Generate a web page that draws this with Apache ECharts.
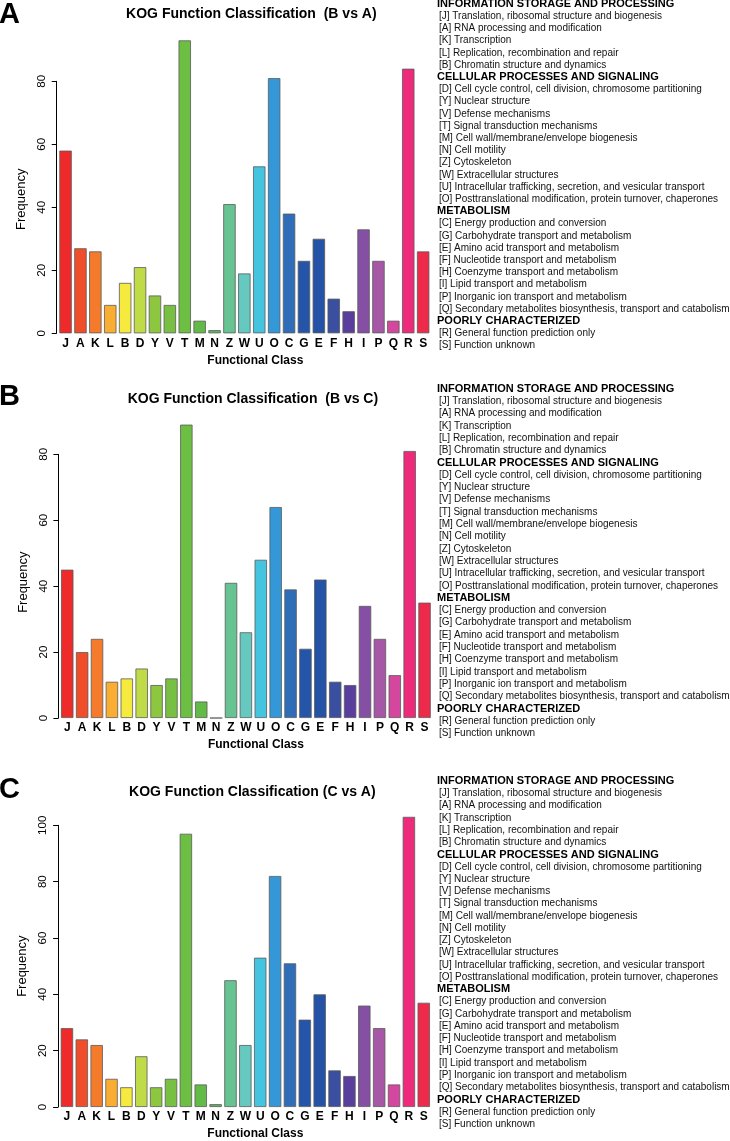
<!DOCTYPE html>
<html>
<head>
<meta charset="utf-8">
<script src="https://cdn.jsdelivr.net/npm/echarts@6/dist/echarts.min.js"></script>
<style>
html,body{margin:0;padding:0;background:#fff;}
#chart{width:730px;height:1141px;}
</style>
</head>
<body>
<div id="chart"></div>
<script>
// ---------- data ----------
const categories = ['J','A','K','L','B','D','Y','V','T','M','N','Z','W','U','O','C','G','E','F','H','I','P','Q','R','S'];
const valuesBvsA = [58,27,26,9,16,21,12,9,93,4,1,41,19,53,81,38,23,30,11,7,33,23,4,84,26];
const valuesBvsC = [45,20,24,11,12,15,10,12,89,5,0,41,26,48,64,39,21,42,11,10,34,24,13,81,35];
const valuesCvsA = [28,24,22,10,7,18,7,10,97,8,1,45,22,53,82,51,31,40,13,11,36,28,8,103,37];
const panelTitles = ['KOG Function Classification  (B vs A)','KOG Function Classification  (B vs C)','KOG Function Classification (C vs A)'];
const panelLetters = ['A','B','C'];
const yTickLabels = [[0,20,40,60,80],[0,20,40,60,80],[0,20,40,60,80,100]];
const groupHeaders = ['INFORMATION STORAGE AND PROCESSING','CELLULAR PROCESSES AND SIGNALING','METABOLISM','POORLY CHARACTERIZED'];
const infoItems = ['[J] Translation, ribosomal structure and biogenesis','[A] RNA processing and modification','[K] Transcription','[L] Replication, recombination and repair','[B] Chromatin structure and dynamics'];
const cellItems = ['[D] Cell cycle control, cell division, chromosome partitioning','[Y] Nuclear structure','[V] Defense mechanisms','[T] Signal transduction mechanisms','[M] Cell wall/membrane/envelope biogenesis','[N] Cell motility','[Z] Cytoskeleton','[W] Extracellular structures','[U] Intracellular trafficking, secretion, and vesicular transport','[O] Posttranslational modification, protein turnover, chaperones'];
const metabItems = ['[C] Energy production and conversion','[G] Carbohydrate transport and metabolism','[E] Amino acid transport and metabolism','[F] Nucleotide transport and metabolism','[H] Coenzyme transport and metabolism','[I] Lipid transport and metabolism','[P] Inorganic ion transport and metabolism','[Q] Secondary metabolites biosynthesis, transport and catabolism'];
const poorItems = ['[R] General function prediction only','[S] Function unknown'];

// ---------- styles ----------
const barColors = ['#ee2a2a','#f04d2b','#f47b2c','#f9ad33','#f6ea3e','#bfdb48','#8dc63f','#78c043','#6cbf43','#62ba47','#5cb85c','#67c391','#66c9c0','#45c4e0','#3498d8','#2f6db8','#2555a8','#2452a6','#3a4fa0','#5a3e9e','#8550a4','#a657a6','#d4479f','#ee2b7b','#ee2a4a'];
const FONT = "'Liberation Sans', Arial, Helvetica, sans-serif";

// ---------- layout (pixels) ----------
const layout = [
  {zeroY:333.3, topY:81.3, left:58.1, right:430.6, titleY:14, letterY:15, legendY:4, lh:12.2, freqShift:8, nameShift:11},
  {zeroY:718.0, topY:454.3, left:59.8, right:432.0, titleY:399, letterY:397, legendY:389, lh:12.3, freqShift:4, nameShift:10},
  {zeroY:1110.0, topY:825.3, left:59.5, right:431.2, titleY:792, letterY:790, legendY:781, lh:12.25, freqShift:0, nameShift:10}
];
const allValues = [valuesBvsA, valuesBvsC, valuesCvsA];

function legendText(){
  const lines = [];
  const groups = [infoItems, cellItems, metabItems, poorItems];
  groups.forEach((g, i) => {
    lines.push('{h|' + groupHeaders[i] + '}');
    g.forEach(t => lines.push('{i|' + t + '}'));
  });
  return lines.join('\n');
}

const grids = [], xAxes = [], yAxes = [], series = [], titles = [];
layout.forEach((p, i) => {
  const ticks = yTickLabels[i];
  grids.push({left:p.left, width:p.right - p.left, top:p.topY, height:p.zeroY - p.topY, containLabel:false});
  xAxes.push({
    type:'category', gridIndex:i, data:categories,
    axisLine:{show:false}, axisTick:{show:false},
    axisLabel:{interval:0, color:'#000', fontWeight:'bold', fontSize:12, margin:4, fontFamily:FONT},
    name:'Functional Class', nameLocation:'middle', nameGap:21,
    nameTextStyle:{color:'#000', fontWeight:'bold', fontSize:12, fontFamily:FONT, padding:[0,0,0,p.nameShift*2]}
  });
  yAxes.push({
    type:'value', gridIndex:i, min:ticks[0], max:ticks[ticks.length-1], interval:20, offset:1.4,
    axisLine:{show:true, lineStyle:{color:'#000', width:1}},
    axisTick:{show:true, length:5, lineStyle:{color:'#000', width:1}},
    axisLabel:{rotate:90, color:'#000', fontSize:11.5, margin:9, fontFamily:FONT},
    splitLine:{show:false},
    name:'Frequency', nameLocation:'middle', nameGap:18,
    nameTextStyle:{color:'#000', fontSize:13, fontFamily:FONT, padding:[0,0,0,p.freqShift*2]}
  });
  series.push({
    type:'bar', xAxisIndex:i, yAxisIndex:i, data:allValues[i].map((v, k) => ({value:v, itemStyle:{color:barColors[k]}})),
    barCategoryGap:'16.7%', clip:false, silent:true, animation:false,
    itemStyle:{borderColor:'#5a5a5a', borderWidth:0.8}
  });
  titles.push({
    text:panelTitles[i], left:(p.left + p.right)/2 + 7, top:p.titleY - 8, textAlign:'center', padding:0,
    textStyle:{fontSize:14, fontWeight:'bold', color:'#000', lineHeight:16, fontFamily:FONT}
  });
  titles.push({
    text:panelLetters[i], left:-1, top:p.letterY - 15, padding:0,
    textStyle:{fontSize:29, fontWeight:'bold', color:'#000', lineHeight:30, fontFamily:FONT}
  });
  titles.push({
    text:legendText(), left:437, top:p.legendY - p.lh/2, padding:0,
    textStyle:{fontFamily:FONT, color:'#000', fontWeight:'normal', rich:{
      h:{fontSize:11, fontWeight:'bold', color:'#000', lineHeight:p.lh, fontFamily:FONT},
      i:{fontSize:10, fontWeight:'normal', color:'#111', lineHeight:p.lh, padding:[0,0,0,2], fontFamily:FONT}
    }}
  });
});

const chart = echarts.init(document.getElementById('chart'), null, {renderer:'canvas'});
chart.setOption({
  animation:false,
  backgroundColor:'#fff',
  textStyle:{fontFamily:FONT},
  title:titles, grid:grids, xAxis:xAxes, yAxis:yAxes, series:series
});
</script>
</body>
</html>
